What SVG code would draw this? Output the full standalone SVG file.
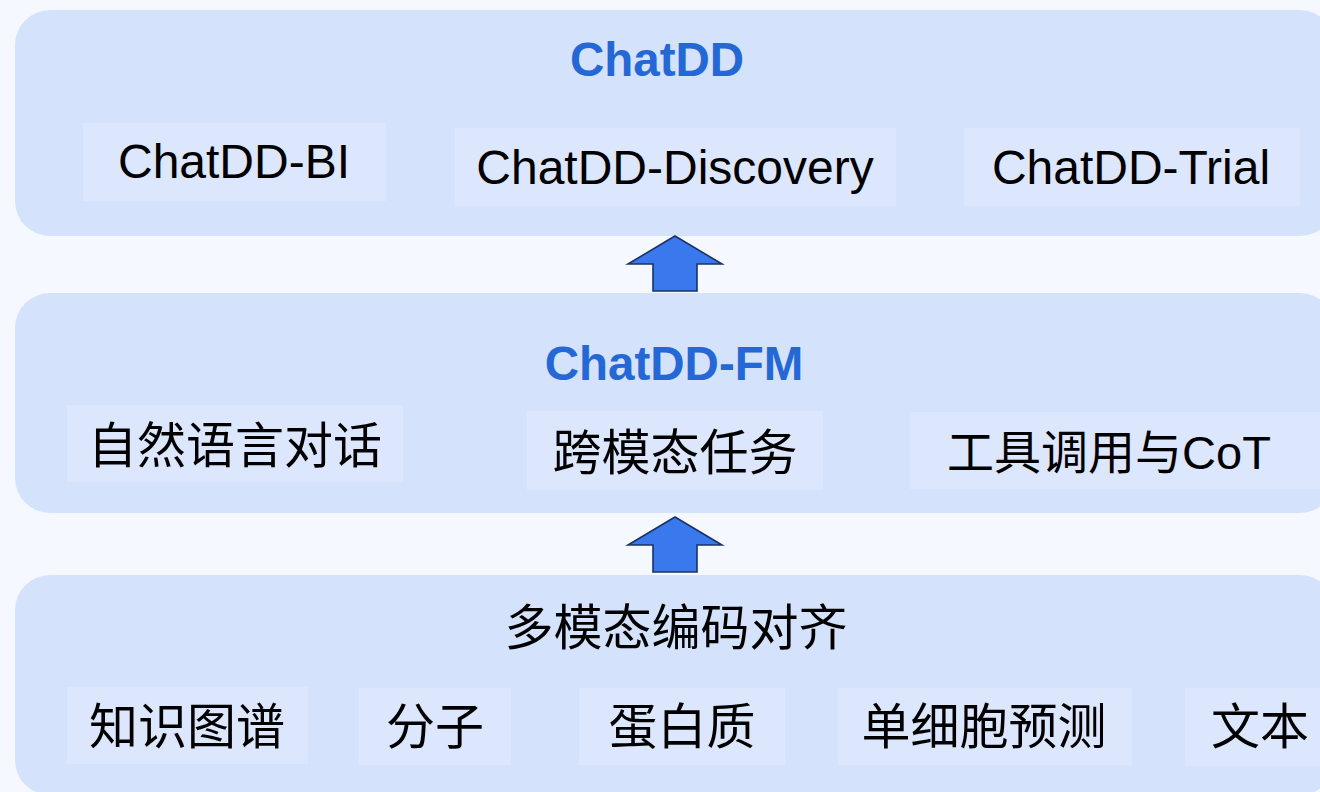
<svg xmlns="http://www.w3.org/2000/svg" width="1320" height="792" viewBox="0 0 1320 792">
<defs>
<style>
.panel{fill:#D5E2FB;}
.box{fill:#DCE6FD;}
.t{font-family:"Liberation Sans","Noto Sans CJK SC",sans-serif;font-size:48px;fill:#000;text-anchor:middle;}
.c{font-size:49px;}
.m{font-size:47px;}
.title{font-family:"Liberation Sans","Noto Sans CJK SC",sans-serif;font-size:47.5px;font-weight:bold;fill:#2468D6;text-anchor:middle;}
.arrow{fill:#3A78EE;stroke:#1A3266;stroke-width:1.6;stroke-linejoin:miter;}
</style>
</defs>
<rect x="0" y="0" width="1320" height="792" fill="#F5F8FE"/>

<g id="layer-chatdd">
<rect class="panel" x="15" y="10" width="1320" height="226" rx="35" ry="35"/>
<text class="title" x="657" y="76">ChatDD</text>
</g>
<g id="chatdd-bi">
<rect class="box" x="83" y="123" width="303" height="78"/>
<text class="t" x="234" y="178">ChatDD-BI</text>
</g>
<g id="chatdd-discovery">
<rect class="box" x="455" y="128" width="441" height="78"/>
<text class="t" x="675" y="184">ChatDD-Discovery</text>
</g>
<g id="chatdd-trial">
<rect class="box" x="964" y="128" width="336" height="78"/>
<text class="t" x="1131" y="184">ChatDD-Trial</text>
</g>

<g id="layer-fm">
<rect class="panel" x="15" y="293" width="1320" height="220" rx="35" ry="35"/>
<text class="title" x="674" y="380">ChatDD-FM</text>
</g>
<g id="nl-dialog">
<rect class="box" x="67" y="405" width="336" height="77"/>
<text class="t c" x="235" y="463">自然语言对话</text>
</g>
<g id="cross-modal">
<rect class="box" x="527" y="411" width="296" height="79"/>
<text class="t c" x="675" y="470">跨模态任务</text>
</g>
<g id="tool-cot">
<rect class="box" x="910" y="412" width="425" height="77"/>
<text class="t m" x="1109" y="469">工具调用与CoT</text>
</g>

<g id="layer-encoding">
<rect class="panel" x="15" y="575" width="1320" height="220" rx="35" ry="35"/>
<text class="t c" x="676" y="645">多模态编码对齐</text>
</g>
<g id="kg">
<rect class="box" x="67" y="687" width="241" height="77"/>
<text class="t c" x="187" y="744">知识图谱</text>
</g>
<g id="molecule">
<rect class="box" x="359" y="688" width="152" height="77"/>
<text class="t c" x="435" y="744">分子</text>
</g>
<g id="protein">
<rect class="box" x="579" y="688" width="206" height="77"/>
<text class="t c" x="682" y="744">蛋白质</text>
</g>
<g id="single-cell">
<rect class="box" x="838" y="688" width="294" height="77"/>
<text class="t c" x="984" y="744">单细胞预测</text>
</g>
<g id="text-modality">
<rect class="box" x="1185" y="688" width="150" height="78"/>
<text class="t c" x="1260" y="744">文本</text>
</g>

<g id="connectors">
<polygon class="arrow" points="675,236 722,264 697,264 697,291 653,291 653,264 628,264"/>
<polygon class="arrow" points="675,517 722,545 697,545 697,572 653,572 653,545 628,545"/>
</g>
</svg>
